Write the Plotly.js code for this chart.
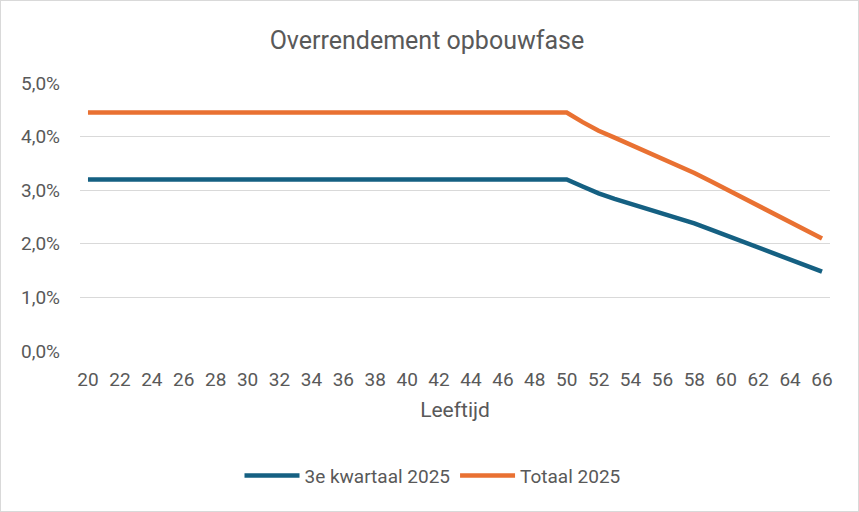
<!DOCTYPE html>
<html>
<head>
<meta charset="utf-8">
<script src="https://cdn.plot.ly/plotly-3.0.1.min.js"></script>
<style>
  html, body { margin: 0; padding: 0; background: #ffffff; }
  #wrap { position: relative; width: 859px; height: 512px; }
  #chart { position: absolute; left: 0; top: 0; width: 859px; height: 512px; }
  #frame { position: absolute; left: 0; top: 0; width: 859px; height: 512px; box-sizing: border-box; border: 1.5px solid #d9d9d9; pointer-events: none; }
</style>
</head>
<body>
<div id="wrap">
  <div id="chart"></div>
  <div id="frame"></div>
</div>
<script>
// Ages (Leeftijd)
const ages = [20,21,22,23,24,25,26,27,28,29,30,31,32,33,34,35,36,37,38,39,40,
              41,42,43,44,45,46,47,48,49,50,51,52,53,54,55,56,57,58,59,60,
              61,62,63,64,65,66];

// 3e kwartaal 2025 (fractions)
const kwartaal3 = [0.0320,0.0320,0.0320,0.0320,0.0320,0.0320,0.0320,0.0320,0.0320,0.0320,
                   0.0320,0.0320,0.0320,0.0320,0.0320,0.0320,0.0320,0.0320,0.0320,0.0320,
                   0.0320,0.0320,0.0320,0.0320,0.0320,0.0320,0.0320,0.0320,0.0320,0.0320,
                   0.0320,0.0307,0.0294,0.0284,0.0275,0.0266,0.0257,0.0248,0.0238,0.0227,
                   0.0216,0.0205,0.0193,0.0182,0.0171,0.0160,0.0148];

// Totaal 2025 (fractions)
const totaal = [0.0445,0.0445,0.0445,0.0445,0.0445,0.0445,0.0445,0.0445,0.0445,0.0445,
                0.0445,0.0445,0.0445,0.0445,0.0445,0.0445,0.0445,0.0445,0.0445,0.0445,
                0.0445,0.0445,0.0445,0.0445,0.0445,0.0445,0.0445,0.0445,0.0445,0.0445,
                0.0445,0.0427,0.0411,0.0398,0.0385,0.0372,0.0358,0.0345,0.0332,0.0317,
                0.0302,0.0286,0.0271,0.0256,0.0240,0.0225,0.0210];

const xTicks = [20,22,24,26,28,30,32,34,36,38,40,42,44,46,48,50,52,54,56,58,60,62,64,66];
const yTicks = [0,0.01,0.02,0.03,0.04,0.05];

const seriesNames = ['3e kwartaal 2025', 'Totaal 2025'];
const seriesColors = ['#156082', '#E97132'];

const textColor = '#595959';
const fontFam = 'Roboto, "Open Sans", sans-serif';

const traces = [
  { x: ages, y: kwartaal3, name: seriesNames[0], type: 'scatter', mode: 'lines',
    line: { color: seriesColors[0], width: 4.5 } },
  { x: ages, y: totaal, name: seriesNames[1], type: 'scatter', mode: 'lines',
    line: { color: seriesColors[1], width: 4.5 } }
];

const layout = {
  width: 859, height: 512,
  paper_bgcolor: '#ffffff', plot_bgcolor: '#ffffff',
  separators: ', ',
  font: { family: fontFam, color: textColor, size: 19 },
  margin: { l: 80, r: 29, t: 83, b: 161, autoexpand: false },
  title: { text: 'Overrendement opbouwfase', font: { family: fontFam, size: 25, color: textColor },
           x: 0.497, xanchor: 'center', y: 1 - 40/512, yanchor: 'middle', xref: 'container', yref: 'container' },
  xaxis: {
    range: [19.5, 66.5], tickmode: 'array', tickvals: xTicks, ticktext: xTicks.map(String),
    showgrid: false, zeroline: false, showline: false, ticks: '',
    ticklabelstandoff: 15,
    tickfont: { size: 19, color: textColor },
    title: { text: 'Leeftijd', font: { size: 21, color: textColor }, standoff: 12 }
  },
  yaxis: {
    range: [0, 0.05], tickmode: 'array', tickvals: yTicks, tickformat: '.1%',
    showgrid: true, gridcolor: '#d9d9d9', gridwidth: 1.3, zeroline: false, showline: false, ticks: '',
    ticklabelstandoff: 19,
    tickfont: { size: 19, color: textColor }
  },
  showlegend: true,
  legend: { orientation: 'h', x: 0.47, xanchor: 'center', y: -0.465, yanchor: 'middle',
            itemwidth: 55, entrywidth: 0,
            font: { size: 19, color: textColor }, bgcolor: 'rgba(0,0,0,0)', traceorder: 'normal' }
};

Plotly.newPlot('chart', traces, layout, { staticPlot: true, displayModeBar: false });
</script>
</body>
</html>
